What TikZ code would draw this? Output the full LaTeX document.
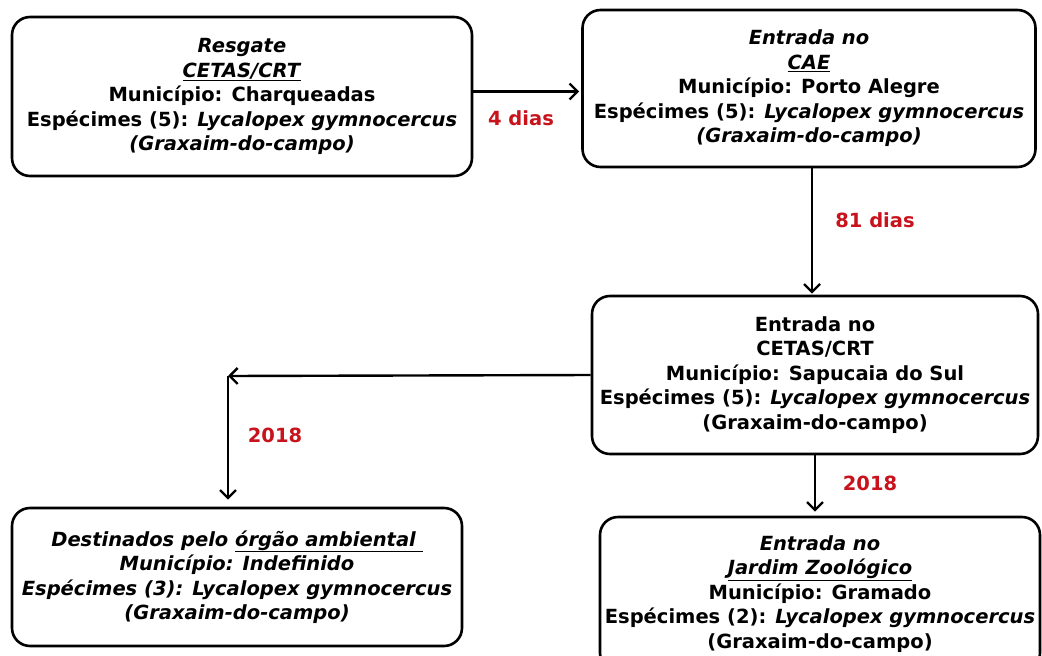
\documentclass[tikz,border=0pt]{standalone}
\usepackage{fontspec}
\setmainfont{DejaVu Sans}
\usetikzlibrary{arrows.meta}
\definecolor{prazored}{RGB}{200,18,28}

\begin{document}
\begin{tikzpicture}[x=1pt,y=-1pt,
    caixa/.style={draw, line width=2.6pt, rounded corners=18pt, align=center,
        inner sep=0pt, font=\bfseries\fontsize{19.5}{24.5}\selectfont},
    caixait/.style={caixa, font=\bfseries\itshape\fontsize{19.5}{24.5}\selectfont},
    seta/.style={line width=2.4pt, -{Straight Barb[length=8pt,width=16pt]}},
    prazo/.style={text=prazored, font=\bfseries\fontsize{19.5}{24}\selectfont}]
    \newcommand{\lyca}{\textit{Lycalopex gymnocercus}}
    \useasboundingbox (0,0) rectangle (1042,656);

    \node[caixa, minimum width=460pt, minimum height=159pt] (resgate) at (242,96.5)
        {\textit{Resgate}\\ \underline{\textit{CETAS/CRT}}\\ Município: Charqueadas\\
         Espécimes (5): \lyca\\ \textit{(Graxaim-do-campo)}};
    \node[caixa, minimum width=453pt, minimum height=157pt] (cae) at (809,88.5)
        {\textit{Entrada no}\\ \underline{\textit{CAE}}\\ Município: Porto Alegre\\
         Espécimes (5): \lyca\\ \textit{(Graxaim-do-campo)}};
    \node[caixa, minimum width=446pt, minimum height=158pt] (sapucaia) at (815,375)
        {Entrada no\\ CETAS/CRT\\ Município: Sapucaia do Sul\\
         Espécimes (5): \lyca\\ (Graxaim-do-campo)};
    \node[caixait, minimum width=450pt, minimum height=138pt] (destino) at (237,577)
        {Destinados pelo \underline{\textit{órgão ambiental~}}\\ Município: Indefinido\\
         Espécimes (3): Lycalopex gymnocercus\\ (Graxaim-do-campo)};
    \node[caixa, minimum width=440pt, minimum height=154pt] (jardim) at (820,594)
        {\textit{Entrada no}\\ \underline{\textit{Jardim Zoológico}}\\ Município: Gramado\\
         Espécimes (2): \lyca\\ (Graxaim-do-campo)};

    % ligacoes
    \draw[seta, shorten >=2pt] ([yshift=5pt]resgate.east) -- ([yshift=5pt]resgate.east -| cae.west);
    \draw[seta, shorten >=1pt] ([xshift=3pt]cae.south) -- ([xshift=3pt]cae.south |- sapucaia.north);
    \coordinate (curva) at (228,376);
    \draw[seta] (sapucaia.west) -- (curva);
    \draw[seta, shorten >=7pt] (curva) -- (curva |- destino.north);
    \draw[seta, shorten >=4pt] (sapucaia.south) -- (sapucaia.south |- jardim.north);

    \node[prazo] (quatro) at (521,118) {4 dias};
    \node[prazo] (oitenta) at (875,220) {81 dias};
    \node[prazo] (anoesq) at (275,435) {2018};
    \node[prazo] (anodir) at (870,483) {2018};
\end{tikzpicture}
\end{document}
